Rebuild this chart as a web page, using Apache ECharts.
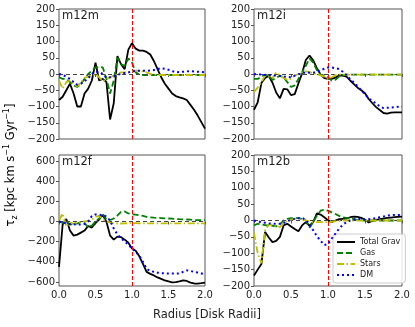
<!DOCTYPE html>
<html>
<head>
<meta charset="utf-8">
<script src="https://cdn.jsdelivr.net/npm/echarts@6/dist/echarts.min.js"></script>
<style>
html, body { margin: 0; padding: 0; background: #fff; }
#main { width: 415px; height: 327px; }
</style>
</head>
<body>
<div id="main"></div>
<script>
// radius in disk radii, shared by every panel
var radius = [0, 0.05, 0.1, 0.15, 0.2, 0.25, 0.3, 0.35, 0.4, 0.45, 0.5, 0.55, 0.6, 0.65, 0.7, 0.75, 0.8, 0.85, 0.9, 0.95,
    1, 1.05, 1.1, 1.15, 1.2, 1.25, 1.3, 1.35, 1.4, 1.45, 1.5, 1.55, 1.6, 1.65, 1.7, 1.75, 1.8, 1.85, 1.9, 1.95, 2];

var smallTicks = [-200, -150, -100, -50, 0, 50, 100, 150, 200];
var bigTicks = [-600, -400, -200, 0, 200, 400, 600];

// m12m
var m12mTotal = [-80, -70, -50, -30, -60, -100, -100, -60, -45, -20, 35, -20, -15, -25, -140, -90, 55, 30, 15, 75,
    95, 78, 72, 72, 68, 60, 40, 15, -10, -30, -45, -60, -68, -72, -75, -80, -95, -110, -128, -148, -168];
var m12mGas = [-10, -15, -15, -25, -35, -40, -30, -15, 0, 10, 20, 22, 20, -15, -60, -20, 50, 30, 25, 48,
    35, 5, -2, -3, -3, -3, -3, -3, -3, -3, -3, -3, -3, -3, -3, -3, -3, -3, -3, -3, -3];
var m12mStars = [-20, -45, -25, -20, -30, -38, -25, -12, -8, -5, 0, -10, -22, -15, -10, -5, 0, 5, 5, 5,
    8, 10, 10, 8, 5, 0, -2, -3, -3, -3, -3, -3, -3, -3, -3, -3, -3, -3, -3, -3, -3];
var m12mDM = [0, -3, -8, -15, -25, -33, -30, -22, -13, 0, 7, 7, 0, -12, -10, -6, -2, 0, 3, 5,
    8, 10, 10, 10, 10, 11, 12, 15, 18, 16, 13, 9, 5, 6, 7, 8, 9, 8, 7, 6, 5];

// m12i
var m12iTotal = [-110, -87, -28, -12, -6, -27, -57, -75, -46, -47, -65, -62, -29, 2, 43, 57, 42, 18, -2, -13,
    -15, -15, -11, -5, -5, -8, -20, -31, -42, -50, -59, -77, -90, -102, -111, -120, -122, -119, -118, -118, -118];
var m12iGas = [-15, -15, -8, -2, -5, -18, -12, -5, -10, -25, -40, -35, -15, 5, 25, 48, 35, 12, -2, -5,
    -10, -20, -18, -8, -3, -2, -2, -2, -2, -2, -2, -2, -2, -2, -2, -2, -2, -2, -2, -2, -2];
var m12iStars = [-55, -42, -25, -5, -8, -12, 5, -5, -12, -18, -15, -5, 0, 5, 8, 6, 2, 0, -4, -8,
    -15, -10, -4, -2, -2, -2, -2, -2, -2, -2, -2, -2, -2, -2, -2, -2, -2, -2, -2, -2, -2];
var m12iDM = [0, -1, -2, -3, -4, -4, -5, -6, -8, -9, -10, -5, -1, 2, 5, 4, 4, 7, 12, 16,
    20, 20, 18, 15, 7, -3, -16, -26, -38, -50, -62, -75, -83, -91, -100, -105, -104, -103, -102, -101, -100];

// m12f
var m12fTotal = [-450, -30, 25, -90, -140, -130, -110, -90, -45, -60, -15, 20, 65, -3, -140, -180, -150, -155, -180, -210,
    -268, -290, -345, -420, -500, -520, -535, -555, -570, -585, -595, -605, -602, -595, -585, -590, -606, -615, -616, -612, -606];
var m12fGas = [0, -15, 0, -30, -25, -20, -5, -15, -60, -40, 0, 30, 75, 20, 15, 30, 60, 95, 100, 80,
    72, 68, 62, 55, 46, 42, 38, 36, 34, 32, 30, 28, 25, 23, 22, 20, 18, 15, 14, 13, 13];
var m12fStars = [10, 80, -50, -10, -20, -10, -5, 0, 5, 20, 45, 55, 20, 0, -10, -18, -20, -20, -18, -17,
    -17, -17, -18, -18, -18, -18, -18, -18, -18, -18, -18, -18, -18, -18, -18, -18, -18, -18, -18, -18, -18];
var m12fDM = [0, -10, -20, -25, -28, -30, -30, -25, 0, 55, 70, 68, 62, 50, 10, -70, -130, -165, -200, -230,
    -270, -300, -340, -400, -470, -490, -500, -508, -512, -515, -517, -517, -517, -515, -500, -485, -490, -500, -507, -515, -523];

// m12b
var m12bTotal = [-168, -150, -133, -35, -52, -66, -62, -50, -15, -10, -18, -26, -33, -15, -5, -16, -5, 22, 18, 10,
    1, -5, 0, 4, 5, 6, 10, 12, 11, 8, 2, -6, -1, 2, 4, 6, 8, 9, 10, 11, 12];
var m12bGas = [-15, -10, -12, -14, -16, -16, -18, -12, 0, 5, 7, 7, 7, 5, 0, -22, -5, 15, 30, 33,
    30, 25, 20, 14, 10, 8, 6, 4, 2, 1, 0, 0, 0, 0, 0, 0, 0, 0, 0, 0, 0];
var m12bStars = [-38, -100, -130, -30, -12, -14, -18, -20, -8, -2, 3, 5, 5, 3, 0, -3, -5, -5, -5, -5,
    -5, -4, -2, -1, 0, 0, 0, 0, 0, 0, 0, 0, 0, 0, 0, 0, 0, 0, 0, 0, 0];
var m12bDM = [0, -3, -5, -7, -9, -10, -10, -10, -8, -2, 2, 5, 7, 8, 2, -13, -30, -48, -62, -75,
    -72, -55, -40, -25, -13, -5, 0, 3, 5, 4, 3, 4, 5, 8, 10, 12, 15, 16, 17, 17, 17];

var panels = [
    {name: 'm12m', left: 59, top: 9, width: 146, height: 130, min: -200, max: 200, ticks: smallTicks, xLabels: false,
        total: m12mTotal, gas: m12mGas, stars: m12mStars, dm: m12mDM},
    {name: 'm12i', left: 254, top: 9, width: 148, height: 130, min: -200, max: 200, ticks: smallTicks, xLabels: false,
        total: m12iTotal, gas: m12iGas, stars: m12iStars, dm: m12iDM},
    {name: 'm12f', left: 59, top: 155, width: 146, height: 131, min: -640, max: 660, ticks: bigTicks, xLabels: true,
        total: m12fTotal, gas: m12fGas, stars: m12fStars, dm: m12fDM},
    {name: 'm12b', left: 254, top: 155, width: 148, height: 131, min: -200, max: 200, ticks: smallTicks, xLabels: true,
        total: m12bTotal, gas: m12bGas, stars: m12bStars, dm: m12bDM}
];

var FONT = 'DejaVu Sans';

function pairs(vals) {
    return radius.map(function (r, i) { return [r, vals[i]]; });
}

function draw() {
    var myChart = echarts.init(document.getElementById('main'));
    var grids = [], xAxes = [], yAxes = [], series = [], titles = [];

    panels.forEach(function (p, i) {
        grids.push({
            left: p.left, top: p.top, width: p.width, height: p.height,
            show: true, borderColor: '#555', borderWidth: 1,
            containLabel: false, outerBoundsMode: 'none'
        });
        xAxes.push({
            gridIndex: i, type: 'value', min: 0, max: 2, interval: 0.5,
            axisLine: {show: false},
            axisTick: {show: true, length: 3, lineStyle: {color: '#555'}},
            axisLabel: {
                show: p.xLabels, fontSize: 10, color: '#222', fontFamily: FONT, margin: 4,
                formatter: function (v) { return v.toFixed(1); }
            },
            splitLine: {show: false}
        });
        yAxes.push({
            gridIndex: i, type: 'value', min: p.min, max: p.max,
            interval: p.max === 200 ? 50 : undefined,
            axisLine: {show: false},
            axisTick: {show: true, length: 3, customValues: p.ticks, lineStyle: {color: '#555'}},
            axisLabel: {
                customValues: p.ticks, fontSize: 10, color: '#222', fontFamily: FONT, margin: 4,
                formatter: function (v) { return (v < 0 ? '\u2212' : '') + Math.abs(v); }
            },
            splitLine: {show: false}
        });
        titles.push({
            text: p.name, left: p.left + 3, top: p.top + 1, padding: 0,
            textStyle: {fontSize: 11.5, fontWeight: 'normal', color: '#222', fontFamily: FONT}
        });

        var base = {type: 'line', xAxisIndex: i, yAxisIndex: i, symbol: 'none', showSymbol: false, silent: true};
        series.push(Object.assign({}, base, {
            name: 'Total Grav', data: pairs(p.total), z: 3,
            itemStyle: {color: '#000'},
            lineStyle: {color: '#000', width: 1.8},
            markLine: {
                silent: true, symbol: 'none', label: {show: false},
                data: [
                    {yAxis: 0, lineStyle: {color: '#444', type: [4, 3], width: 1.2}},
                    {xAxis: 1, lineStyle: {color: '#ff0000', type: [4, 2], width: 1}}
                ]
            }
        }));
        series.push(Object.assign({}, base, {
            name: 'Gas', data: pairs(p.gas), z: 4,
            itemStyle: {color: '#008000'},
            lineStyle: {color: '#008000', width: 1.8, type: [6, 3]}
        }));
        series.push(Object.assign({}, base, {
            name: 'Stars', data: pairs(p.stars), z: 5,
            itemStyle: {color: '#bfbf00'},
            lineStyle: {color: '#bfbf00', width: 1.8, type: [7, 2.5, 1.5, 2.5]}
        }));
        series.push(Object.assign({}, base, {
            name: 'DM', data: pairs(p.dm), z: 6,
            itemStyle: {color: '#0000ff'},
            lineStyle: {color: '#0000ff', width: 2, type: [2, 3]}
        }));
    });

    var option = {
        animation: false,
        backgroundColor: '#fff',
        title: titles,
        grid: grids,
        xAxis: xAxes,
        yAxis: yAxes,
        legend: {
            data: ['Total Grav', 'Gas', 'Stars', 'DM'],
            orient: 'vertical', left: 333, top: 234,
            itemWidth: 18, itemHeight: 8, itemGap: 3,
            padding: [4, 5, 4, 3],
            borderColor: '#ccc', borderWidth: 1, borderRadius: 3,
            backgroundColor: 'rgba(255,255,255,0.85)',
            selectedMode: false,
            itemStyle: {color: 'transparent', borderWidth: 0, opacity: 0},
            textStyle: {fontSize: 8, color: '#222', fontFamily: FONT}
        },
        graphic: [
            {
                type: 'text', x: 207, y: 315, silent: true,
                style: {
                    text: 'Radius [Disk Radii]', font: '11.5px "DejaVu Sans"', fill: '#222',
                    textAlign: 'center', textVerticalAlign: 'middle'
                }
            },
            {
                type: 'text', x: 11, y: 165, rotation: Math.PI / 2, silent: true,
                style: {
                    text: '{n|\u03c4}{s|z}{n| [kpc km s}{p|\u22121}{n| Gyr}{p|\u22121}{n|]}',
                    textAlign: 'center', textVerticalAlign: 'middle',
                    rich: {
                        n: {fontSize: 11.5, fontFamily: FONT, color: '#222', lineHeight: 16, verticalAlign: 'middle'},
                        s: {fontSize: 8, fontFamily: FONT, color: '#222', lineHeight: 9, verticalAlign: 'bottom'},
                        p: {fontSize: 8, fontFamily: FONT, color: '#222', lineHeight: 9, verticalAlign: 'top'}
                    }
                }
            }
        ],
        series: series
    };
    myChart.setOption(option, true);
    window.onresize = myChart.resize;
}

draw();
</script>
</body>
</html>
